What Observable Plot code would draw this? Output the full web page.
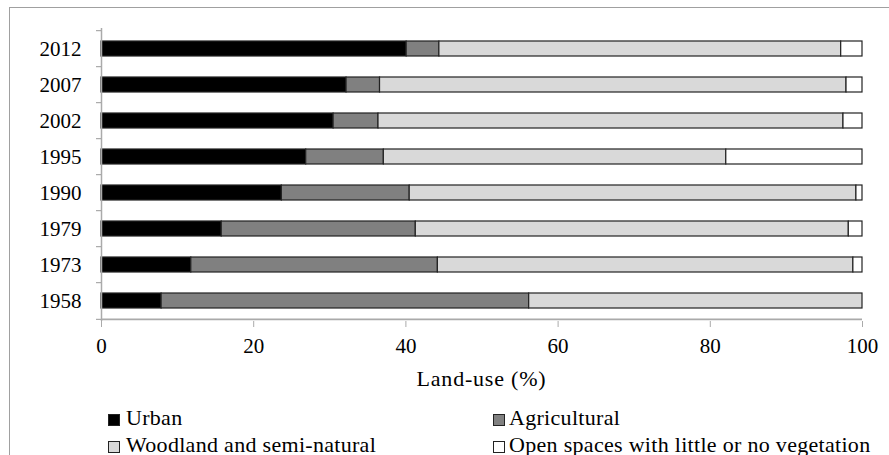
<!DOCTYPE html>
<html><head><meta charset="utf-8">
<script src="https://cdn.jsdelivr.net/npm/d3@7"></script>
<script src="https://cdn.jsdelivr.net/npm/@observablehq/plot@0.6"></script>
<style>
body{margin:0;background:#fff;}
#wrap{position:relative;width:889px;height:455px;overflow:hidden;font-family:"Liberation Serif","Times New Roman",serif;color:#000;}
#frame{position:absolute;left:9px;top:7px;width:890px;height:460px;border-top:1px solid #a0a0a0;border-left:1px solid #a0a0a0;}
#chart{position:absolute;left:0;top:0;}
.txt{position:absolute;font-size:22px;line-height:1;white-space:nowrap;}
.sq{position:absolute;width:10px;height:10px;border:1px solid #222;}
</style></head>
<body><div id="wrap"><div id="frame"></div><div id="chart"></div></div>
<script>
const years = ["2012","2007","2002","1995","1990","1979","1973","1958"];
const categories = ["Urban","Agricultural","Woodland and semi-natural","Open spaces with little or no vegetation"];
const colors = ["#000000","#808080","#d9d9d9","#ffffff"];
const urban       = [40.1, 32.2, 30.5, 26.9, 23.7, 15.8, 11.8, 7.9];
const agricultural= [ 4.3,  4.4,  5.9, 10.2, 16.8, 25.5, 32.4, 48.3];
const woodland    = [52.8, 61.3, 61.1, 45.0, 58.7, 56.9, 54.6, 43.8];
const openSpaces  = [ 2.8,  2.1,  2.5, 17.9,  0.8,  1.8,  1.2,  0.0];
const xTicks = [0,20,40,60,80,100];
const xLabel = "Land-use (%)";

const series = [urban, agricultural, woodland, openSpaces];
const data = [];
years.forEach((y, i) => categories.forEach((c, j) => data.push({year: y, category: c, value: series[j][i]})));

const W = 889, H = 400, mL = 101, mR = 27, mT = 28, mB = 79;
const step = (H - mT - mB) / years.length;

const chart = Plot.plot({
  width: W, height: H,
  marginLeft: mL, marginRight: mR, marginTop: mT, marginBottom: mB,
  style: {fontFamily: '"Liberation Serif","Times New Roman",serif', fontSize: "21px", color: "#000", background: "transparent"},
  x: {domain: [0, 100]},
  y: {domain: years, paddingInner: 0.59, paddingOuter: 0.295},
  color: {domain: categories, range: colors},
  marks: [
    Plot.barX(data, Plot.stackX({x: "value", y: "year", fill: "category", stroke: "#222", strokeWidth: 1.2})),
    Plot.ruleX([0], {stroke: "#aaa", strokeWidth: 1.5}),
    Plot.ruleY([years[years.length-1]], {dy: step/2, stroke: "#aaa", strokeWidth: 1.8}),
    Plot.axisY({tickSize: 5, tickFormat: () => "", dy: -step/2, stroke: "#999", label: null}),
    Plot.axisY([years[years.length-1]], {tickSize: 5, tickFormat: () => "", dy: step/2, stroke: "#999", label: null}),
    Plot.axisY({tickSize: 0, tickPadding: 20, fontSize: 21, label: null}),
    Plot.axisX({ticks: xTicks, tickSize: 6, tickPadding: 11, fontSize: 21, stroke: "#aaa", label: null})
  ]
});
const wrap = document.getElementById("wrap");
document.getElementById("chart").appendChild(chart);

function addText(t, left, top, center, spacing) {
  const d = document.createElement("div");
  d.className = "txt"; d.textContent = t;
  d.style.top = top + "px";
  d.style.left = left + "px";
  if (center) d.style.transform = "translateX(-50%)";
  if (spacing) d.style.letterSpacing = spacing + "px";
  wrap.appendChild(d);
}
addText(xLabel, (mL + W - mR) / 2, 368, true, 0.8);

const legendPos = [[108, 126, 407], [493, 509, 407], [108, 126, 433.5], [493, 509, 433.5]];
categories.forEach((c, i) => {
  const [sx, tx, ty] = legendPos[i];
  const s = document.createElement("div");
  s.className = "sq"; s.style.left = sx + "px"; s.style.top = (ty + 7) + "px"; s.style.background = colors[i];
  wrap.appendChild(s);
  addText(c, tx, ty, false, 0.3);
});
</script></body></html>
